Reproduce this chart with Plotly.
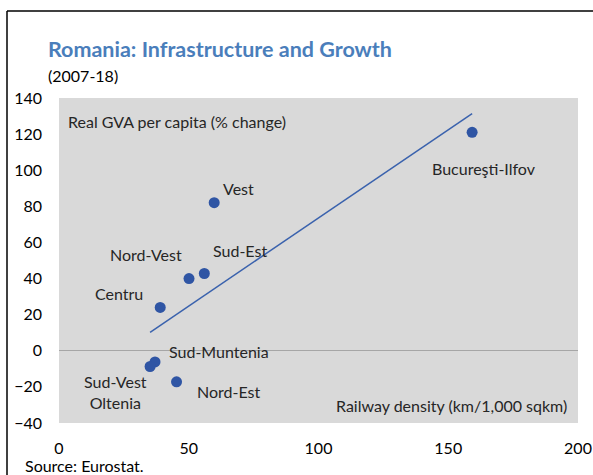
import numpy as np
import plotly.graph_objects as go

regions = ["Bucureşti-Ilfov", "Vest", "Sud-Est", "Nord-Vest", "Centru",
           "Sud-Muntenia", "Sud-Vest<br>Oltenia", "Nord-Est"]
railway_density = [159.2, 59.8, 56.0, 50.1, 39.0, 37.0, 35.1, 45.3]
gva_change = [121.0, 82.0, 42.8, 40.0, 24.0, -6.2, -8.7, -17.2]
x_ticks = [0, 50, 100, 150, 200]
y_ticks = [-40, -20, 0, 20, 40, 60, 80, 100, 120, 140]

# label offsets in pixels (x right, y up)
label_shift = [(12, -36), (24, 14), (36, 23), (-43, 24), (-41, 14),
               (64, 10), (-35, -26), (52, -10)]

FONT = "Lato"
TXT = "#262626"
W, H = 593, 475
L, R, T, B = 59, 15, 98, 52
pw, ph = W - L - R, H - T - B

def px(xp):
    return (xp - L) / pw

def py(yp):
    return 1 - (yp - T) / ph

slope, intercept = np.polyfit(railway_density, gva_change, 1)
xs = np.array([min(railway_density), max(railway_density)])

fig = go.Figure()
fig.add_trace(go.Scatter(x=xs, y=slope * xs + intercept, mode="lines",
                         line=dict(color="#3a62ad", width=1.5),
                         hoverinfo="skip", showlegend=False))
fig.add_trace(go.Scatter(x=railway_density, y=gva_change, mode="markers",
                         marker=dict(color="#2f55a4", size=11),
                         text=regions, showlegend=False))

annotations = []
for name, xv, yv, (dx, dy) in zip(regions, railway_density, gva_change, label_shift):
    annotations.append(dict(x=xv, y=yv, xref="x", yref="y", text=name,
                            showarrow=False, xshift=dx, yshift=dy,
                            font=dict(family=FONT, size=16, color=TXT)))

annotations += [
    dict(x=px(46), y=py(49), xref="paper", yref="paper", xanchor="left", yanchor="middle",
         text="<b>Romania: Infrastructure and Growth</b>", showarrow=False,
         font=dict(family=FONT, size=21.5, color="#4a7ebb")),
    dict(x=px(46), y=py(75), xref="paper", yref="paper", xanchor="left", yanchor="middle",
         text="(2007-18)", showarrow=False, font=dict(family=FONT, size=16, color="#000000")),
    dict(x=px(66), y=py(121), xref="paper", yref="paper", xanchor="left", yanchor="middle",
         text="Real GVA per capita (% change)", showarrow=False,
         font=dict(family=FONT, size=16, color=TXT)),
    dict(x=px(569), y=py(405), xref="paper", yref="paper", xanchor="right", yanchor="middle",
         text="Railway density (km/1,000 sqkm)", showarrow=False,
         font=dict(family=FONT, size=16, color=TXT)),
    dict(x=px(23), y=py(465), xref="paper", yref="paper", xanchor="left", yanchor="middle",
         text="Source: Eurostat.", showarrow=False,
         font=dict(family=FONT, size=16, color="#000000")),
]

shapes = [
    dict(type="line", xref="paper", yref="paper", x0=px(7), x1=px(7), y0=py(11), y1=py(475),
         line=dict(color="#000000", width=1.5)),
    dict(type="line", xref="paper", yref="paper", x0=px(7), x1=px(593), y0=py(11), y1=py(11),
         line=dict(color="#000000", width=1.5)),
]

fig.update_layout(
    template="none",
    width=W, height=H,
    margin=dict(l=L, r=R, t=T, b=B, autoexpand=False),
    paper_bgcolor="#ffffff", plot_bgcolor="#d9d9d9",
    font=dict(family=FONT, size=16, color=TXT),
    annotations=annotations, shapes=shapes,
    xaxis=dict(range=[0, 200], tickvals=x_ticks, showgrid=False, zeroline=False,
               showline=False, ticks="", ticklabelstandoff=14, automargin=False,
               tickfont=dict(family=FONT, size=16, color="#000000")),
    yaxis=dict(range=[-40, 140], tickvals=y_ticks, showgrid=False, zeroline=True,
               zerolinecolor="#a6a6a6", zerolinewidth=1, showline=False, ticks="",
               ticklabelstandoff=16, automargin=False,
               tickfont=dict(family=FONT, size=16, color="#000000")),
)

fig.write_html("out.html", config={"displayModeBar": False},
               post_script="document.body.style.margin='0';document.body.style.overflow='hidden';"
                           "document.documentElement.style.overflow='hidden';")
